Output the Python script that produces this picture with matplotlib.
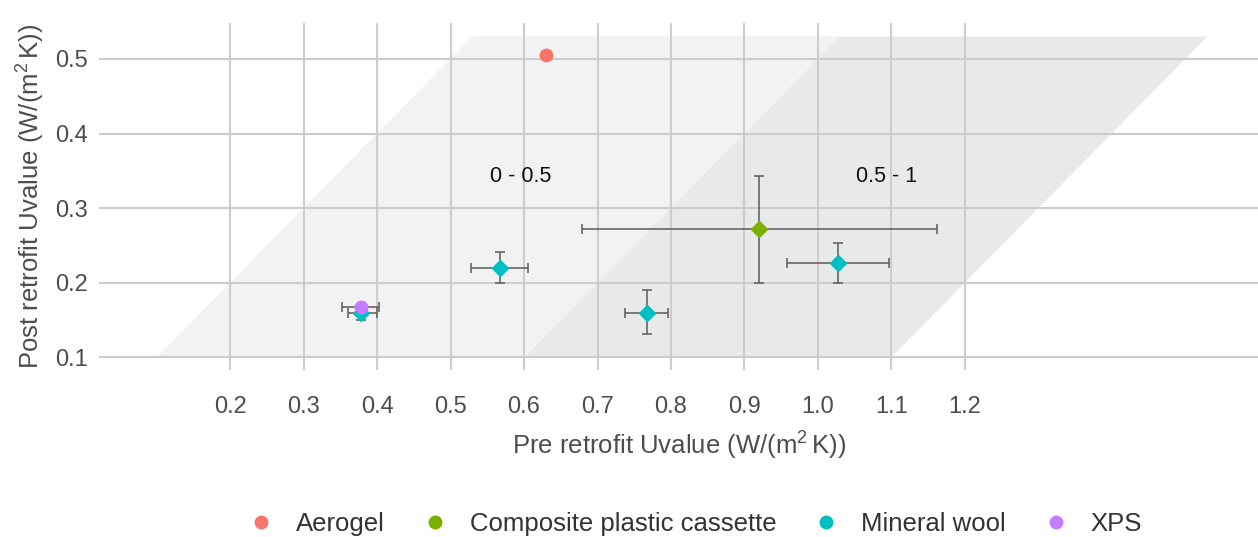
import matplotlib
matplotlib.use('Agg')
import matplotlib.pyplot as plt
from matplotlib.lines import Line2D

plt.rcParams['font.family'] = ['Liberation Sans', 'DejaVu Sans']
plt.rcParams['mathtext.fontset'] = 'custom'
plt.rcParams['mathtext.rm'] = 'Liberation Sans'
plt.rcParams['mathtext.it'] = 'Liberation Sans:italic'

# insulation measurements
materials = ['Aerogel', 'Composite plastic cassette', 'Mineral wool', 'Mineral wool',
             'Mineral wool', 'Mineral wool', 'XPS']
pre_u = [0.63, 0.92, 0.567, 0.767, 1.028, 0.378, 0.378]
post_u = [0.505, 0.272, 0.220, 0.160, 0.226, 0.160, 0.168]
pre_lo = [0.63, 0.679, 0.528, 0.737, 0.958, 0.36, 0.352]
pre_hi = [0.63, 1.162, 0.605, 0.796, 1.097, 0.40, 0.402]
post_lo = [0.505, 0.200, 0.200, 0.131, 0.200, 0.150, 0.168]
post_hi = [0.505, 0.343, 0.241, 0.190, 0.253, 0.170, 0.168]

legend_names = ['Aerogel', 'Composite plastic cassette', 'Mineral wool', 'XPS']
colors = {'Aerogel': '#F8766D', 'Composite plastic cassette': '#7CAE00',
          'Mineral wool': '#00BFC4', 'XPS': '#C77CFF'}
markers = {'Aerogel': 'o', 'Composite plastic cassette': 'D',
           'Mineral wool': 'D', 'XPS': 'o'}

# reduction bands (pre - post) and their labels
bands = [(0.0, 0.5, '#f2f2f2'), (0.5, 1.0, '#e9e9e9')]
band_labels = ['0 - 0.5', '0.5 - 1']
band_label_x = [0.595, 1.094]
band_y = (0.1, 0.53)

fig = plt.figure(figsize=(12.58, 5.37), dpi=100)
ax = fig.add_axes([0.079, 0.311, 0.921, 0.646])

for (lo, hi, col), lab, lx in zip(bands, band_labels, band_label_x):
    y0, y1 = band_y
    ax.fill([y0 + lo, y0 + hi, y1 + hi, y1 + lo], [y0, y0, y1, y1],
            color=col, lw=0, zorder=1)
    ax.text(lx, 0.343, lab, ha='center', va='center', fontsize=15.5,
            color='#111111', zorder=4)

for i, m in enumerate(materials):
    x, y = pre_u[i], post_u[i]
    if pre_hi[i] > pre_lo[i]:
        ax.errorbar(x, y, xerr=[[x - pre_lo[i]], [pre_hi[i] - x]],
                    fmt='none', ecolor='#5a5a5a', elinewidth=1.1,
                    capsize=3.5, capthick=1.1, zorder=3)
    if post_hi[i] > post_lo[i]:
        ax.errorbar(x, y, yerr=[[y - post_lo[i]], [post_hi[i] - y]],
                    fmt='none', ecolor='#5a5a5a', elinewidth=1.1,
                    capsize=3.5, capthick=1.1, zorder=3)
    ax.plot(x, y, marker=markers[m], color=colors[m], ms=10 if markers[m] == 'o' else 9,
            ls='none', mec='none', zorder=5)

ax.set_xlim(0.022, 1.599)
ax.set_ylim(0.083, 0.548)
ax.set_xticks([0.2, 0.3, 0.4, 0.5, 0.6, 0.7, 0.8, 0.9, 1.0, 1.1, 1.2])
ax.set_yticks([0.1, 0.2, 0.3, 0.4, 0.5])
ax.grid(True, color='#cccccc', lw=1.5, zorder=2)
ax.set_axisbelow(False)
for g in ax.get_xgridlines() + ax.get_ygridlines():
    g.set_zorder(2)
for s in ax.spines.values():
    s.set_visible(False)
ax.tick_params(length=0, labelsize=17, labelcolor='#4d4d4d', pad=8)
ax.tick_params(axis='x', pad=19)
ax.set_facecolor('white')

ax.set_xlabel(r'Pre retrofit Uvalue $\mathrm{(W/(m^2\,K))}$', fontsize=18.5,
              color='#4d4d4d', labelpad=8)
ax.set_ylabel(r'Post retrofit Uvalue $\mathrm{(W/(m^2\,K))}$', fontsize=18.5,
              color='#4d4d4d', labelpad=6)

handles = [Line2D([], [], marker='o', ls='none', color=colors[n], ms=10, mec='none')
           for n in legend_names]
fig.legend(handles, legend_names, loc='center', bbox_to_anchor=(0.55, 0.025),
           ncol=4, frameon=False, fontsize=18.5, labelcolor='#333333',
           handletextpad=0.6, columnspacing=1.2, handlelength=1.5)

fig.savefig('out.png', dpi=100)
